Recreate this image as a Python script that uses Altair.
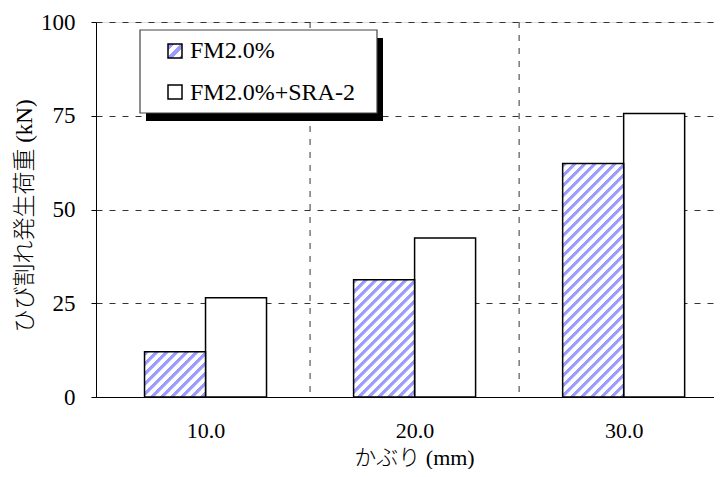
import altair as alt
import pandas as pd

# ---- data ----
cover = [10.0, 20.0, 30.0]            # かぶり (mm)
fm = [12.1, 31.3, 62.3]               # FM2.0%
fm_sra = [26.5, 42.4, 75.6]           # FM2.0%+SRA-2
series = ["FM2.0%", "FM2.0%+SRA-2"]
y_ticks = [0, 25, 50, 75, 100]
x_bounds = [15.0, 25.0]

# ---- layout ----
W, H = 618, 375
PX_PER_UNIT = 21.25
BAR_W = 61
HATCH = "#9c9cff"
SERIF = "Liberation Serif"
FONT = "'Liberation Serif', 'Noto Sans CJK JP', serif"
GRID = "#333333"
DASH = [6, 7]

xscale = alt.Scale(domain=[5, 5 + W / PX_PER_UNIT], nice=False, zero=False)
yscale = alt.Scale(domain=[0, 100], nice=False)


def hatch_gradient(w, h, period=10.0, band=4.5, color=HATCH):
    total = w + h
    a = total * w / (w * w + h * h)
    stops = []
    s = 0.0
    while s < total:
        for off, col in [(s, "white"), (s + 0.8, color), (s + band, color), (s + band + 0.8, "white")]:
            if off <= total:
                stops.append(alt.GradientStop(offset=off / total, color=col))
        s += period
    return alt.LinearGradient(gradient="linear", x1=0, y1=0, x2=a, y2=a * h / w, stops=stops)


xaxis = alt.Axis(
    values=cover, format=".1f", title="かぶり (mm)", ticks=False, tickSize=0, grid=False,
    domainColor="black", domainWidth=1, labelFont=SERIF, labelFontSize=22, labelColor="black",
    labelPadding=23, titleFont=FONT, titleFontSize=22, titleFontWeight=300, titleColor="black",
    titleX=318, titleY=67, titleBaseline="alphabetic", titleAlign="center",
)
yaxis = alt.Axis(
    values=y_ticks, title="ひび割れ発生荷重 (kN)", grid=True, gridDash=DASH, gridColor=GRID,
    gridWidth=1, gridOpacity=1, tickSize=5, tickColor="black", domainColor="black", domainWidth=1,
    labelFont=SERIF, labelFontSize=23, labelColor="black", labelPadding=16,
    titleFont=FONT, titleFontSize=23, titleFontWeight=300, titleColor="black",
    titleX=-72, titleY=H / 2 + 6, titleBaseline="middle", titleAlign="center", titleAngle=270,
)

X = lambda f: alt.X(f, scale=xscale, axis=xaxis)
Y = lambda f: alt.Y(f, scale=yscale, axis=yaxis)

vgrid = alt.Chart(pd.DataFrame({"c": x_bounds, "v": [0.0, 0.0]})).mark_rule(
    strokeDash=DASH, color=GRID, strokeWidth=1
).encode(x=X("c:Q"), y=alt.value(0), y2=alt.value(H))

white_bars = alt.Chart(pd.DataFrame({"c": cover, "v": fm_sra})).mark_bar(
    width=BAR_W, xOffset=BAR_W / 2, fill="white", stroke="black", strokeWidth=1.5
).encode(x=X("c:Q"), y=Y("v:Q"))

hatched = []
for c, v in zip(cover, fm):
    h = v * H / 100.0
    hatched.append(
        alt.Chart(pd.DataFrame({"c": [c], "v": [v]})).mark_bar(
            width=BAR_W, xOffset=-BAR_W / 2, fill=hatch_gradient(BAR_W, h),
            stroke="black", strokeWidth=1.5,
        ).encode(x=X("c:Q"), y=Y("v:Q"))
    )

# ---- legend (drawn by hand: box with drop shadow) ----
one = pd.DataFrame({"k": [0]})
shadow = alt.Chart(one).mark_rect(color="black").encode(
    x=alt.value(50), x2=alt.value(287), y=alt.value(16), y2=alt.value(99)
)
box = alt.Chart(one).mark_rect(fill="white", stroke="#444444", strokeWidth=1.2).encode(
    x=alt.value(44), x2=alt.value(281), y=alt.value(8), y2=alt.value(91)
)
sw1 = alt.Chart(one).mark_rect(fill=hatch_gradient(14, 14, period=12, band=6), stroke="black", strokeWidth=1.5).encode(
    x=alt.value(72), x2=alt.value(86), y=alt.value(22), y2=alt.value(36)
)
sw2 = alt.Chart(one).mark_rect(fill="white", stroke="black", strokeWidth=1.5).encode(
    x=alt.value(72), x2=alt.value(86), y=alt.value(63), y2=alt.value(77)
)
t1 = alt.Chart(pd.DataFrame({"label": [series[0]]})).mark_text(
    font=SERIF, fontSize=24, color="black", align="left", baseline="alphabetic"
).encode(x=alt.value(94), y=alt.value(36), text="label:N")
t2 = alt.Chart(pd.DataFrame({"label": [series[1]]})).mark_text(
    font=SERIF, fontSize=24, color="black", align="left", baseline="alphabetic"
).encode(x=alt.value(94), y=alt.value(78), text="label:N")

chart = alt.layer(vgrid, white_bars, *hatched, shadow, box, sw1, sw2, t1, t2).properties(
    width=W, height=H,
    autosize=alt.AutoSizeParams(type="none"),
    padding={"left": 88, "top": 14, "right": 0, "bottom": 72},
).configure_view(stroke=None).configure(background="white")

chart.save("out.html", embed_options={"renderer": "svg", "actions": False})
